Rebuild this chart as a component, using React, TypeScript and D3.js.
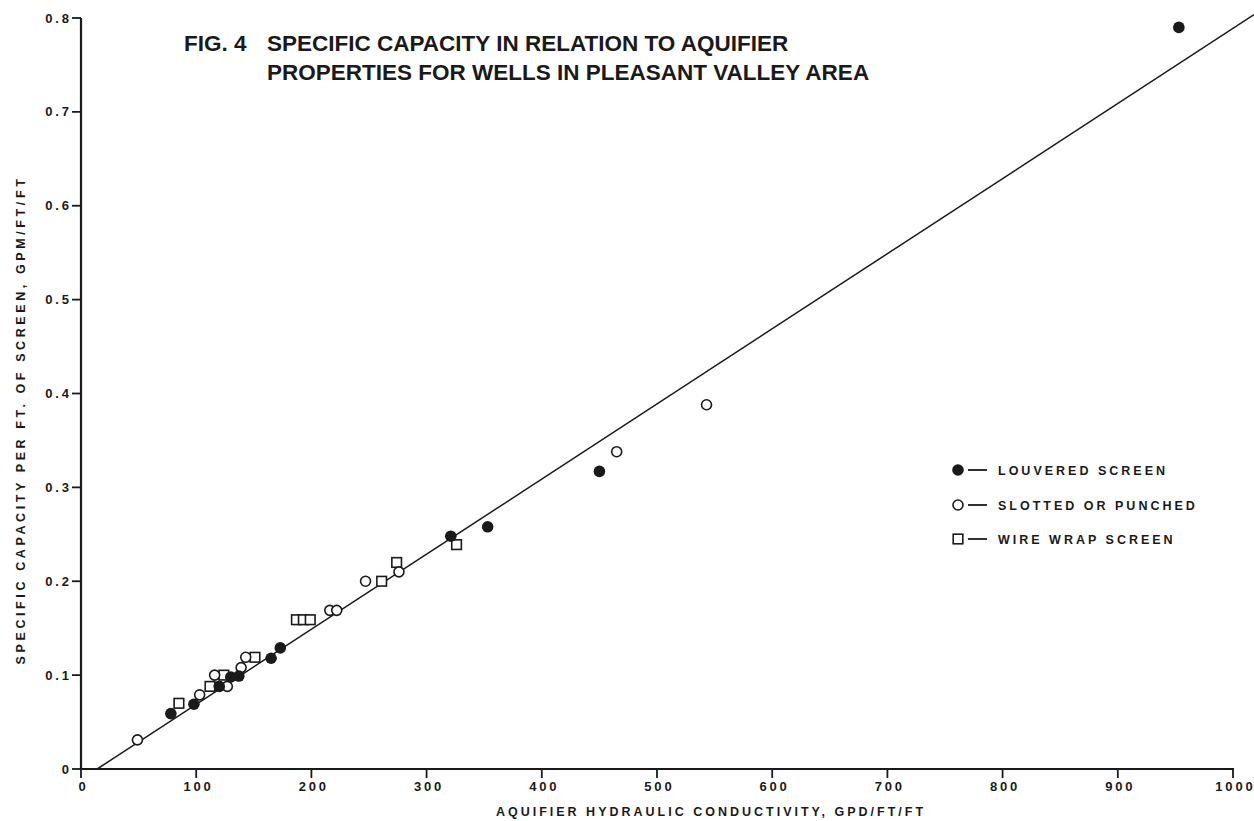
import React from "react";
import * as d3 from "d3";

const louvered = [
  { x: 78, y: 0.059 }, { x: 98, y: 0.069 }, { x: 120, y: 0.088 }, { x: 130, y: 0.098 },
  { x: 137, y: 0.099 }, { x: 165, y: 0.118 }, { x: 173, y: 0.129 }, { x: 321, y: 0.248 },
  { x: 353, y: 0.258 }, { x: 450, y: 0.317 }, { x: 953, y: 0.79 },
];
const slotted = [
  { x: 49, y: 0.031 }, { x: 103, y: 0.079 }, { x: 116, y: 0.1 }, { x: 127, y: 0.088 },
  { x: 139, y: 0.108 }, { x: 143, y: 0.119 }, { x: 216, y: 0.169 }, { x: 222, y: 0.169 },
  { x: 247, y: 0.2 }, { x: 276, y: 0.21 }, { x: 465, y: 0.338 }, { x: 543, y: 0.388 },
];
const wireWrap = [
  { x: 85, y: 0.07 }, { x: 112, y: 0.088 }, { x: 124, y: 0.1 }, { x: 151, y: 0.119 },
  { x: 187, y: 0.159 }, { x: 193, y: 0.159 }, { x: 199, y: 0.159 }, { x: 261, y: 0.2 },
  { x: 274, y: 0.22 }, { x: 326, y: 0.239 },
];
const fitLine = [{ x: 14, y: 0 }, { x: 1020, y: 0.805 }];
const xTicks = [0, 100, 200, 300, 400, 500, 600, 700, 800, 900, 1000];
const yTicks = [0, 0.1, 0.2, 0.3, 0.4, 0.5, 0.6, 0.7, 0.8];
const yTickLabels = ["0", "0.1", "0.2", "0.3", "0.4", "0.5", "0.6", "0.7", "0.8"];
const legendLabels = ["LOUVERED SCREEN", "SLOTTED OR PUNCHED", "WIRE WRAP SCREEN"];
const titleLines = ["FIG. 4", "SPECIFIC CAPACITY IN RELATION TO AQUIFIER", "PROPERTIES FOR WELLS IN PLEASANT VALLEY AREA"];
const xTitle = "AQUIFIER HYDRAULIC CONDUCTIVITY, GPD/FT/FT";
const yTitle = "SPECIFIC CAPACITY PER FT. OF SCREEN, GPM/FT/FT";

export default function App() {
  const W = 1254, H = 821;
  const x = d3.scaleLinear().domain([0, 1000]).range([81, 1233]);
  const y = d3.scaleLinear().domain([0, 0.8]).range([769, 18]);
  const ink = "#1a1a1a";
  const font = "'Liberation Sans', Arial, sans-serif";
  const line = d3.line<{ x: number; y: number }>().x((d) => x(d.x)).y((d) => y(d.y));
  const sp = 2.8;
  const tickStyle = { fontFamily: font, fontWeight: 700, fontSize: 13, fill: ink, letterSpacing: sp };
  const titleStyle = { fontFamily: font, fontWeight: 700, fontSize: 22.5, fill: ink, letterSpacing: 0 };
  const legendY = [470, 505, 539];

  return (
    <svg width={W} height={H} style={{ position: "absolute", left: 0, top: 0, background: "#fff" }}>
      <rect width={W} height={H} fill="#fff" />
      <path d={line(fitLine) || ""} fill="none" stroke={ink} strokeWidth={1.5} />
      <line x1={x(0)} x2={x(0)} y1={y(0.8)} y2={y(0) + 1} stroke={ink} strokeWidth={2.2} />
      <line x1={x(0) - 1} x2={x(1000) + 1} y1={y(0)} y2={y(0)} stroke={ink} strokeWidth={2.2} />
      {yTicks.map((t, i) => (
        <g key={"y" + t}>
          <line x1={x(0) - 9} x2={x(0)} y1={y(t)} y2={y(t)} stroke={ink} strokeWidth={1.8} />
          <text x={x(0) - 12 + sp} y={y(t)} dy="0.35em" textAnchor="end" style={tickStyle}>{yTickLabels[i]}</text>
        </g>
      ))}
      {xTicks.map((t) => (
        <g key={"x" + t}>
          <line x1={x(t)} x2={x(t)} y1={y(0)} y2={y(0) + 9} stroke={ink} strokeWidth={1.8} />
          <text x={x(t) + 1 + sp / 2} y={791} textAnchor="middle" style={tickStyle}>{t}</text>
        </g>
      ))}
      <text x={711} y={816} textAnchor="middle" style={{ fontFamily: font, fontWeight: 700, fontSize: 12.5, fill: ink, letterSpacing: 3 }}>{xTitle}</text>
      <text transform={`translate(25,420) rotate(-90)`} textAnchor="middle" style={{ fontFamily: font, fontWeight: 700, fontSize: 12.5, fill: ink, letterSpacing: 3.6 }}>{yTitle}</text>
      <text x={184} y={51} style={titleStyle}>{titleLines[0]}</text>
      <text x={267} y={51} style={titleStyle}>{titleLines[1]}</text>
      <text x={267} y={80} style={titleStyle}>{titleLines[2]}</text>
      {wireWrap.map((d, i) => (
        <rect key={"s" + i} x={x(d.x) - 4.8} y={y(d.y) - 4.8} width={9.6} height={9.6} fill="#fff" stroke={ink} strokeWidth={1.6} />
      ))}
      {slotted.map((d, i) => (
        <circle key={"o" + i} cx={x(d.x)} cy={y(d.y)} r={5} fill="#fff" stroke={ink} strokeWidth={1.6} />
      ))}
      {louvered.map((d, i) => (
        <circle key={"f" + i} cx={x(d.x)} cy={y(d.y)} r={5.8} fill={ink} />
      ))}
      {legendLabels.map((lab, i) => {
        const ly = legendY[i];
        return (
          <g key={lab}>
            {i === 0 && <circle cx={958} cy={ly} r={5.8} fill={ink} />}
            {i === 1 && <circle cx={958} cy={ly} r={5} fill="#fff" stroke={ink} strokeWidth={1.6} />}
            {i === 2 && <rect x={953.2} y={ly - 4.8} width={9.6} height={9.6} fill="#fff" stroke={ink} strokeWidth={1.6} />}
            <line x1={968} x2={987} y1={ly} y2={ly} stroke={ink} strokeWidth={1.8} />
            <text x={998} y={ly} dy="0.36em" style={{ fontFamily: font, fontWeight: 700, fontSize: 12.5, fill: ink, letterSpacing: 3 }}>{lab}</text>
          </g>
        );
      })}
    </svg>
  );
}
